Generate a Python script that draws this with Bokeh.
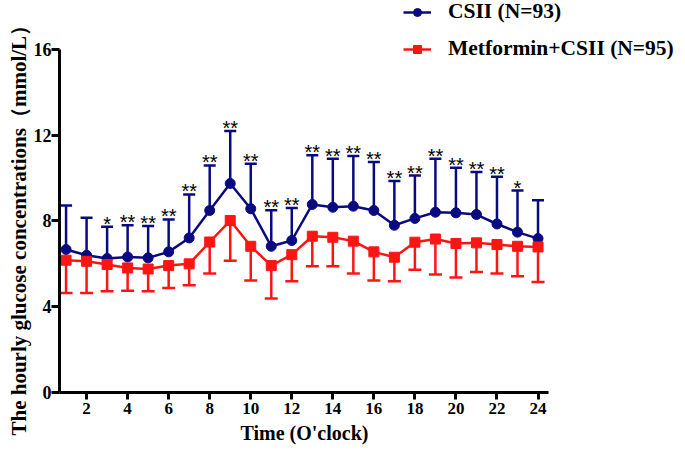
from bokeh.plotting import figure
from bokeh.models import Legend, LegendItem, ColumnDataSource, FixedTicker, Range1d, Title
from bokeh.core.properties import value
from bokeh.embed import file_html
from bokeh.resources import INLINE

hours = list(range(1, 25))
csii_mean = [6.67, 6.40, 6.25, 6.32, 6.28, 6.56, 7.21, 8.49, 9.75, 8.57, 6.82, 7.09,
             8.77, 8.64, 8.69, 8.49, 7.80, 8.12, 8.41, 8.38, 8.30, 7.86, 7.48, 7.18]
csii_sd = [2.05, 1.75, 1.48, 1.48, 1.49, 1.51, 2.03, 2.10, 2.45, 2.10, 1.68, 1.52,
           2.30, 2.26, 2.34, 2.26, 2.06, 2.00, 2.49, 2.10, 1.98, 2.20, 1.94, 1.79]
met_mean = [6.17, 6.12, 5.97, 5.81, 5.76, 5.92, 6.00, 7.02, 8.02, 6.82, 5.92, 6.43,
            7.29, 7.24, 7.06, 6.56, 6.31, 7.01, 7.16, 6.95, 6.98, 6.90, 6.82, 6.79]
met_sd = [1.53, 1.48, 1.25, 1.06, 1.04, 1.05, 1.00, 1.47, 1.87, 1.59, 1.54, 1.24,
          1.40, 1.35, 1.51, 1.34, 1.12, 1.28, 1.66, 1.58, 1.36, 1.35, 1.40, 1.64]
signif = ["", "", "*", "**", "**", "**", "**", "**", "**", "**", "**", "**",
          "**", "**", "**", "**", "**", "**", "**", "**", "**", "**", "*", ""]
x_ticks = [2, 4, 6, 8, 10, 12, 14, 16, 18, 20, 22, 24]
y_ticks = [0, 4, 8, 12, 16]

BLUE = "#0a0a80"
RED = "#ff1414"
SERIF = "Liberation Serif"

csii_top = [m + s for m, s in zip(csii_mean, csii_sd)]
met_bot = [m - s for m, s in zip(met_mean, met_sd)]

src = ColumnDataSource(dict(x=hours, cm=csii_mean, ct=csii_top, mm=met_mean, mb=met_bot, sig=signif))

p = figure(width=683, height=452, output_backend="svg", toolbar_location=None, title=None,
           x_range=Range1d(0.68, 31.09), y_range=Range1d(0, 18.285),
           min_border_left=59, min_border_right=0, min_border_top=0, min_border_bottom=60)
p.outline_line_color = None
p.xgrid.visible = False
p.ygrid.visible = False

# CSII series
p.segment(x0="x", y0="cm", x1="x", y1="ct", source=src, line_color=BLUE, line_width=2.5)
p.scatter("x", "ct", source=src, marker="dash", size=12, line_color=BLUE, line_width=2.5)
bl = p.line("x", "cm", source=src, line_color=BLUE, line_width=2.5)
bm = p.scatter("x", "cm", source=src, marker="circle", size=10, fill_color=BLUE, line_color=BLUE)

# Metformin+CSII series
p.segment(x0="x", y0="mm", x1="x", y1="mb", source=src, line_color=RED, line_width=2.5)
p.scatter("x", "mb", source=src, marker="dash", size=13, line_color=RED, line_width=2.5)
rl = p.line("x", "mm", source=src, line_color=RED, line_width=2.5)
rm = p.scatter("x", "mm", source=src, marker="square", size=10, fill_color=RED, line_color=RED)

# significance stars
p.text("x", "ct", text="sig", source=src, y_offset=-3, text_align="center",
       text_baseline="alphabetic", text_font=value("Liberation Sans"),
       text_font_size="20px", text_color="black")

for ax in (p.xaxis[0], p.yaxis[0]):
    ax.axis_line_width = 3
    ax.axis_line_color = "black"
    ax.major_tick_line_width = 3
    ax.major_tick_line_color = "black"
    ax.major_tick_in = 0
    ax.minor_tick_line_color = None
    ax.major_label_text_font = SERIF
    ax.major_label_text_font_style = "bold"
    ax.major_label_text_color = "black"

p.xaxis.ticker = FixedTicker(ticks=x_ticks)
p.xaxis.bounds = (0.68, 24.5)
p.xaxis.major_tick_out = 7
p.xaxis.major_label_standoff = 3
p.xaxis.major_label_text_font_size = "17px"

p.yaxis.ticker = FixedTicker(ticks=y_ticks)
p.yaxis.bounds = (0, 16)
p.yaxis.major_tick_out = 8
p.yaxis.major_label_standoff = 0
p.yaxis.major_label_text_font_size = "18px"

xt = Title(text="Time (O'clock)", align="left", offset=181, standoff=7,
           text_font=SERIF, text_font_style="bold", text_font_size="20px", text_color="black")
p.add_layout(xt, "below")
yt = Title(text="The hourly glucose concentrations（mmol/L）", align="left", offset=-43, standoff=0,
           text_font=SERIF, text_font_style="bold", text_font_size="21px", text_color="black")
p.add_layout(yt, "left")

legend = Legend(items=[LegendItem(label="CSII (N=93)", renderers=[bl, bm]),
                       LegendItem(label="Metformin+CSII (N=95)", renderers=[rl, rm])],
                location=(344, 331), padding=0, margin=0, spacing=12,
                glyph_width=28, glyph_height=20, label_height=20, label_standoff=17,
                border_line_color=None, background_fill_alpha=0,
                label_text_font=SERIF, label_text_font_style="bold",
                label_text_font_size="21.5px", label_text_color="black")
p.add_layout(legend, "center")

open("out.html", "w").write(file_html(p, INLINE))
